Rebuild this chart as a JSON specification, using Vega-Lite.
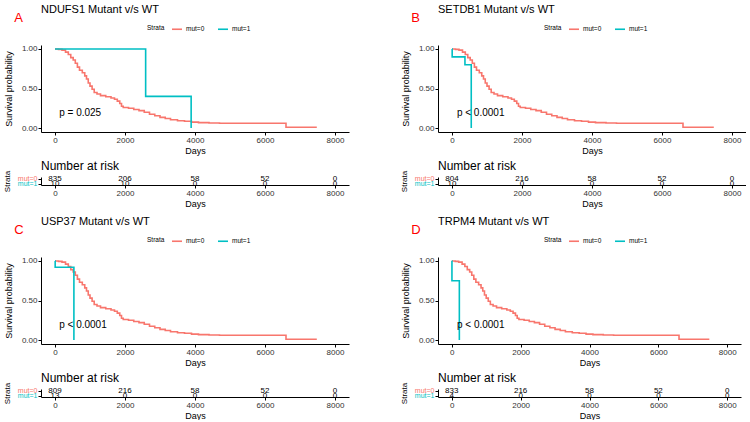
{
  "$schema": "https://vega.github.io/schema/vega-lite/v6.json",
  "background": "white",
  "padding": {"left": 3, "top": 4, "right": 0, "bottom": 0},
  "config": {
    "font": "Liberation Sans",
    "view": {"stroke": null},
    "axis": {"grid": false, "domainColor": "#000", "tickColor": "#000", "labelColor": "#333", "titleColor": "#000", "labelFontSize": 8, "titleFontSize": 9, "titleFontWeight": "normal", "tickSize": 3, "labelPadding": 1, "domainWidth": 1, "tickWidth": 1},
    "title": {"fontWeight": "normal", "color": "#000", "anchor": "start"},
    "legend": {"orient": "none", "legendX": 106, "legendY": -22, "direction": "horizontal", "titleOrient": "left", "symbolType": "stroke", "symbolSize": 100, "symbolStrokeWidth": 1.6, "labelFontSize": 6.5, "titleFontSize": 6.5, "titleFontWeight": "normal", "titlePadding": 6, "columnPadding": 9, "labelOffset": 3, "titleColor": "#000", "labelColor": "#000"}
  },
  "datasets": {
    "wt": [
      {"t": 0, "s": 1}, {"t": 100, "s": 0.995}, {"t": 200, "s": 0.985}, {"t": 300, "s": 0.96}, {"t": 380, "s": 0.93},
      {"t": 450, "s": 0.89}, {"t": 520, "s": 0.86}, {"t": 580, "s": 0.82}, {"t": 640, "s": 0.77}, {"t": 700, "s": 0.73},
      {"t": 780, "s": 0.70}, {"t": 850, "s": 0.66}, {"t": 900, "s": 0.62}, {"t": 950, "s": 0.57}, {"t": 1000, "s": 0.53},
      {"t": 1060, "s": 0.49}, {"t": 1120, "s": 0.45}, {"t": 1200, "s": 0.43}, {"t": 1300, "s": 0.41}, {"t": 1450, "s": 0.395},
      {"t": 1600, "s": 0.38}, {"t": 1700, "s": 0.365}, {"t": 1780, "s": 0.34}, {"t": 1850, "s": 0.31}, {"t": 1900, "s": 0.275},
      {"t": 1950, "s": 0.26}, {"t": 2100, "s": 0.25}, {"t": 2250, "s": 0.235}, {"t": 2400, "s": 0.22}, {"t": 2550, "s": 0.2},
      {"t": 2700, "s": 0.175}, {"t": 2850, "s": 0.155}, {"t": 3000, "s": 0.135}, {"t": 3150, "s": 0.12}, {"t": 3300, "s": 0.105},
      {"t": 3500, "s": 0.093}, {"t": 3700, "s": 0.085}, {"t": 3900, "s": 0.075}, {"t": 4100, "s": 0.068}, {"t": 4400, "s": 0.063},
      {"t": 4700, "s": 0.06}, {"t": 6600, "s": 0.01}, {"t": 7480, "s": 0.01}
    ],
    "mut": [
      {"p": "A", "t": 0, "s": 1}, {"p": "A", "t": 2590, "s": 0.4}, {"p": "A", "t": 3890, "s": 0},
      {"p": "B", "t": 0, "s": 1}, {"p": "B", "t": 5, "s": 0.9}, {"p": "B", "t": 370, "s": 0.8}, {"p": "B", "t": 550, "s": 0},
      {"p": "C", "t": 0, "s": 1}, {"p": "C", "t": 5, "s": 0.92}, {"p": "C", "t": 540, "s": 0},
      {"p": "D", "t": 0, "s": 1}, {"p": "D", "t": 5, "s": 0.75}, {"p": "D", "t": 220, "s": 0}
    ],
    "risk": [
      {"p": "A", "g": "mut=0", "t": 0, "n": "835"}, {"p": "A", "g": "mut=0", "t": 2000, "n": "206"}, {"p": "A", "g": "mut=0", "t": 4000, "n": "58"}, {"p": "A", "g": "mut=0", "t": 6000, "n": "52"}, {"p": "A", "g": "mut=0", "t": 8000, "n": "0"},
      {"p": "A", "g": "mut=1", "t": 0, "n": "10"}, {"p": "A", "g": "mut=1", "t": 2000, "n": "10"}, {"p": "A", "g": "mut=1", "t": 4000, "n": "0"}, {"p": "A", "g": "mut=1", "t": 6000, "n": "0"}, {"p": "A", "g": "mut=1", "t": 8000, "n": "0"},
      {"p": "B", "g": "mut=0", "t": 0, "n": "804"}, {"p": "B", "g": "mut=0", "t": 2000, "n": "216"}, {"p": "B", "g": "mut=0", "t": 4000, "n": "58"}, {"p": "B", "g": "mut=0", "t": 6000, "n": "52"}, {"p": "B", "g": "mut=0", "t": 8000, "n": "0"},
      {"p": "B", "g": "mut=1", "t": 0, "n": "10"}, {"p": "B", "g": "mut=1", "t": 2000, "n": "0"}, {"p": "B", "g": "mut=1", "t": 4000, "n": "0"}, {"p": "B", "g": "mut=1", "t": 6000, "n": "0"}, {"p": "B", "g": "mut=1", "t": 8000, "n": "0"},
      {"p": "C", "g": "mut=0", "t": 0, "n": "809"}, {"p": "C", "g": "mut=0", "t": 2000, "n": "216"}, {"p": "C", "g": "mut=0", "t": 4000, "n": "58"}, {"p": "C", "g": "mut=0", "t": 6000, "n": "52"}, {"p": "C", "g": "mut=0", "t": 8000, "n": "0"},
      {"p": "C", "g": "mut=1", "t": 0, "n": "13"}, {"p": "C", "g": "mut=1", "t": 2000, "n": "0"}, {"p": "C", "g": "mut=1", "t": 4000, "n": "0"}, {"p": "C", "g": "mut=1", "t": 6000, "n": "0"}, {"p": "C", "g": "mut=1", "t": 8000, "n": "0"},
      {"p": "D", "g": "mut=0", "t": 0, "n": "833"}, {"p": "D", "g": "mut=0", "t": 2000, "n": "216"}, {"p": "D", "g": "mut=0", "t": 4000, "n": "58"}, {"p": "D", "g": "mut=0", "t": 6000, "n": "52"}, {"p": "D", "g": "mut=0", "t": 8000, "n": "0"},
      {"p": "D", "g": "mut=1", "t": 0, "n": "4"}, {"p": "D", "g": "mut=1", "t": 2000, "n": "0"}, {"p": "D", "g": "mut=1", "t": 4000, "n": "0"}, {"p": "D", "g": "mut=1", "t": 6000, "n": "0"}, {"p": "D", "g": "mut=1", "t": 8000, "n": "0"}
    ]
  },
  "spacing": 8,
  "resolve": {"scale": {"color": "independent"}, "legend": {"color": "independent"}},
  "vconcat": [
    {
      "spacing": 51,
      "resolve": {"scale": {"color": "independent"}, "legend": {"color": "independent"}},
      "hconcat": [
        {
          "title": {"text": "A", "color": "#FF0000", "fontSize": 13, "dx": 11, "dy": 25},
          "spacing": 4,
          "resolve": {"scale": {"color": "independent"}, "legend": {"color": "independent"}},
          "vconcat": [
            {
              "width": 308, "height": 87,
              "title": {"text": "NDUFS1 Mutant v/s WT", "frame": "group", "fontSize": 11, "offset": 8},
              "layer": [
                {"data": {"name": "wt"}, "mark": {"type": "line", "interpolate": "step-after", "strokeWidth": 1.6},
                 "encoding": {
                   "x": {"field": "t", "type": "quantitative", "scale": {"domain": [-400, 8400], "nice": false, "zero": false}, "axis": {"values": [0, 2000, 4000, 6000, 8000], "format": "d", "title": "Days", "titlePadding": 2}},
                   "y": {"field": "s", "type": "quantitative", "scale": {"domain": [-0.05, 1.05], "nice": false, "zero": false}, "axis": {"values": [0, 0.25, 0.5, 0.75, 1], "format": ".2f", "title": "Survival probability", "titlePadding": 8}},
                   "color": {"datum": "mut=0", "type": "nominal", "scale": {"domain": ["mut=0", "mut=1"], "range": ["#F8766D", "#00BFC4"]}, "legend": {"title": "Strata"}}}},
                {"data": {"name": "mut"}, "transform": [{"filter": "datum.p == 'A'"}], "mark": {"type": "line", "interpolate": "step-after", "strokeWidth": 1.6},
                 "encoding": {"x": {"field": "t", "type": "quantitative"}, "y": {"field": "s", "type": "quantitative"}, "color": {"datum": "mut=1", "type": "nominal"}}},
                {"data": {"values": [{"label": "p = 0.025"}]}, "mark": {"type": "text", "align": "left", "baseline": "middle", "fontSize": 10, "color": "#000"},
                 "encoding": {"x": {"datum": 120, "type": "quantitative"}, "y": {"datum": 0.19, "type": "quantitative"}, "text": {"field": "label", "type": "nominal"}}}
              ]
            },
            {
              "width": 308, "height": 8,
              "title": {"text": "Number at risk", "frame": "group", "fontSize": 12, "offset": -2.5},
              "data": {"name": "risk"}, "transform": [{"filter": "datum.p == 'A'"}],
              "mark": {"type": "text", "fontSize": 8, "baseline": "middle", "color": "#000"},
              "encoding": {
                "x": {"field": "t", "type": "quantitative", "scale": {"domain": [-400, 8400], "nice": false, "zero": false}, "axis": {"values": [0, 2000, 4000, 6000, 8000], "format": "d", "title": "Days", "titlePadding": 2}},
                "y": {"field": "g", "type": "nominal", "scale": {"type": "point", "domain": ["mut=0", "mut=1"], "padding": 0.3}, "axis": {"title": "Strata", "titleFontSize": 8, "labelFontSize": 7, "titlePadding": 6, "labelColor": {"condition": {"test": "datum.value === 'mut=0'", "value": "#F8766D"}, "value": "#00BFC4"}}},
                "text": {"field": "n", "type": "nominal"}
              }
            }
          ]
        },
        {
          "title": {"text": "B", "color": "#FF0000", "fontSize": 13, "dx": 11, "dy": 25},
          "spacing": 4,
          "resolve": {"scale": {"color": "independent"}, "legend": {"color": "independent"}},
          "vconcat": [
            {
              "width": 308, "height": 87,
              "title": {"text": "SETDB1 Mutant v/s WT", "frame": "group", "fontSize": 11, "offset": 8},
              "layer": [
                {"data": {"name": "wt"}, "mark": {"type": "line", "interpolate": "step-after", "strokeWidth": 1.6},
                 "encoding": {
                   "x": {"field": "t", "type": "quantitative", "scale": {"domain": [-400, 8400], "nice": false, "zero": false}, "axis": {"values": [0, 2000, 4000, 6000, 8000], "format": "d", "title": "Days", "titlePadding": 2}},
                   "y": {"field": "s", "type": "quantitative", "scale": {"domain": [-0.05, 1.05], "nice": false, "zero": false}, "axis": {"values": [0, 0.25, 0.5, 0.75, 1], "format": ".2f", "title": "Survival probability", "titlePadding": 8}},
                   "color": {"datum": "mut=0", "type": "nominal", "scale": {"domain": ["mut=0", "mut=1"], "range": ["#F8766D", "#00BFC4"]}, "legend": {"title": "Strata"}}}},
                {"data": {"name": "mut"}, "transform": [{"filter": "datum.p == 'B'"}], "mark": {"type": "line", "interpolate": "step-after", "strokeWidth": 1.6},
                 "encoding": {"x": {"field": "t", "type": "quantitative"}, "y": {"field": "s", "type": "quantitative"}, "color": {"datum": "mut=1", "type": "nominal"}}},
                {"data": {"values": [{"label": "p < 0.0001"}]}, "mark": {"type": "text", "align": "left", "baseline": "middle", "fontSize": 10, "color": "#000"},
                 "encoding": {"x": {"datum": 140, "type": "quantitative"}, "y": {"datum": 0.19, "type": "quantitative"}, "text": {"field": "label", "type": "nominal"}}}
              ]
            },
            {
              "width": 308, "height": 8,
              "title": {"text": "Number at risk", "frame": "group", "fontSize": 12, "offset": -2.5},
              "data": {"name": "risk"}, "transform": [{"filter": "datum.p == 'B'"}],
              "mark": {"type": "text", "fontSize": 8, "baseline": "middle", "color": "#000"},
              "encoding": {
                "x": {"field": "t", "type": "quantitative", "scale": {"domain": [-400, 8400], "nice": false, "zero": false}, "axis": {"values": [0, 2000, 4000, 6000, 8000], "format": "d", "title": "Days", "titlePadding": 2}},
                "y": {"field": "g", "type": "nominal", "scale": {"type": "point", "domain": ["mut=0", "mut=1"], "padding": 0.3}, "axis": {"title": "Strata", "titleFontSize": 8, "labelFontSize": 7, "titlePadding": 6, "labelColor": {"condition": {"test": "datum.value === 'mut=0'", "value": "#F8766D"}, "value": "#00BFC4"}}},
                "text": {"field": "n", "type": "nominal"}
              }
            }
          ]
        }
      ]
    },
    {
      "spacing": 51,
      "resolve": {"scale": {"color": "independent"}, "legend": {"color": "independent"}},
      "hconcat": [
        {
          "title": {"text": "C", "color": "#FF0000", "fontSize": 13, "dx": 11, "dy": 25},
          "spacing": 4,
          "resolve": {"scale": {"color": "independent"}, "legend": {"color": "independent"}},
          "vconcat": [
            {
              "width": 308, "height": 87,
              "title": {"text": "USP37 Mutant v/s WT", "frame": "group", "fontSize": 11, "offset": 8},
              "layer": [
                {"data": {"name": "wt"}, "mark": {"type": "line", "interpolate": "step-after", "strokeWidth": 1.6},
                 "encoding": {
                   "x": {"field": "t", "type": "quantitative", "scale": {"domain": [-400, 8400], "nice": false, "zero": false}, "axis": {"values": [0, 2000, 4000, 6000, 8000], "format": "d", "title": "Days", "titlePadding": 2}},
                   "y": {"field": "s", "type": "quantitative", "scale": {"domain": [-0.05, 1.05], "nice": false, "zero": false}, "axis": {"values": [0, 0.25, 0.5, 0.75, 1], "format": ".2f", "title": "Survival probability", "titlePadding": 8}},
                   "color": {"datum": "mut=0", "type": "nominal", "scale": {"domain": ["mut=0", "mut=1"], "range": ["#F8766D", "#00BFC4"]}, "legend": {"title": "Strata"}}}},
                {"data": {"name": "mut"}, "transform": [{"filter": "datum.p == 'C'"}], "mark": {"type": "line", "interpolate": "step-after", "strokeWidth": 1.6},
                 "encoding": {"x": {"field": "t", "type": "quantitative"}, "y": {"field": "s", "type": "quantitative"}, "color": {"datum": "mut=1", "type": "nominal"}}},
                {"data": {"values": [{"label": "p < 0.0001"}]}, "mark": {"type": "text", "align": "left", "baseline": "middle", "fontSize": 10, "color": "#000"},
                 "encoding": {"x": {"datum": 120, "type": "quantitative"}, "y": {"datum": 0.19, "type": "quantitative"}, "text": {"field": "label", "type": "nominal"}}}
              ]
            },
            {
              "width": 308, "height": 8,
              "title": {"text": "Number at risk", "frame": "group", "fontSize": 12, "offset": -2.5},
              "data": {"name": "risk"}, "transform": [{"filter": "datum.p == 'C'"}],
              "mark": {"type": "text", "fontSize": 8, "baseline": "middle", "color": "#000"},
              "encoding": {
                "x": {"field": "t", "type": "quantitative", "scale": {"domain": [-400, 8400], "nice": false, "zero": false}, "axis": {"values": [0, 2000, 4000, 6000, 8000], "format": "d", "title": "Days", "titlePadding": 2}},
                "y": {"field": "g", "type": "nominal", "scale": {"type": "point", "domain": ["mut=0", "mut=1"], "padding": 0.3}, "axis": {"title": "Strata", "titleFontSize": 8, "labelFontSize": 7, "titlePadding": 6, "labelColor": {"condition": {"test": "datum.value === 'mut=0'", "value": "#F8766D"}, "value": "#00BFC4"}}},
                "text": {"field": "n", "type": "nominal"}
              }
            }
          ]
        },
        {
          "title": {"text": "D", "color": "#FF0000", "fontSize": 13, "dx": 11, "dy": 25},
          "spacing": 4,
          "resolve": {"scale": {"color": "independent"}, "legend": {"color": "independent"}},
          "vconcat": [
            {
              "width": 303, "height": 87,
              "title": {"text": "TRPM4 Mutant v/s WT", "frame": "group", "fontSize": 11, "offset": 8},
              "layer": [
                {"data": {"name": "wt"}, "mark": {"type": "line", "interpolate": "step-after", "strokeWidth": 1.6},
                 "encoding": {
                   "x": {"field": "t", "type": "quantitative", "scale": {"domain": [-400, 8400], "nice": false, "zero": false}, "axis": {"values": [0, 2000, 4000, 6000, 8000], "format": "d", "title": "Days", "titlePadding": 2}},
                   "y": {"field": "s", "type": "quantitative", "scale": {"domain": [-0.05, 1.05], "nice": false, "zero": false}, "axis": {"values": [0, 0.25, 0.5, 0.75, 1], "format": ".2f", "title": "Survival probability", "titlePadding": 8}},
                   "color": {"datum": "mut=0", "type": "nominal", "scale": {"domain": ["mut=0", "mut=1"], "range": ["#F8766D", "#00BFC4"]}, "legend": {"title": "Strata"}}}},
                {"data": {"name": "mut"}, "transform": [{"filter": "datum.p == 'D'"}], "mark": {"type": "line", "interpolate": "step-after", "strokeWidth": 1.6},
                 "encoding": {"x": {"field": "t", "type": "quantitative"}, "y": {"field": "s", "type": "quantitative"}, "color": {"datum": "mut=1", "type": "nominal"}}},
                {"data": {"values": [{"label": "p < 0.0001"}]}, "mark": {"type": "text", "align": "left", "baseline": "middle", "fontSize": 10, "color": "#000"},
                 "encoding": {"x": {"datum": 150, "type": "quantitative"}, "y": {"datum": 0.19, "type": "quantitative"}, "text": {"field": "label", "type": "nominal"}}}
              ]
            },
            {
              "width": 303, "height": 8,
              "title": {"text": "Number at risk", "frame": "group", "fontSize": 12, "offset": -2.5},
              "data": {"name": "risk"}, "transform": [{"filter": "datum.p == 'D'"}],
              "mark": {"type": "text", "fontSize": 8, "baseline": "middle", "color": "#000"},
              "encoding": {
                "x": {"field": "t", "type": "quantitative", "scale": {"domain": [-400, 8400], "nice": false, "zero": false}, "axis": {"values": [0, 2000, 4000, 6000, 8000], "format": "d", "title": "Days", "titlePadding": 2}},
                "y": {"field": "g", "type": "nominal", "scale": {"type": "point", "domain": ["mut=0", "mut=1"], "padding": 0.3}, "axis": {"title": "Strata", "titleFontSize": 8, "labelFontSize": 7, "titlePadding": 6, "labelColor": {"condition": {"test": "datum.value === 'mut=0'", "value": "#F8766D"}, "value": "#00BFC4"}}},
                "text": {"field": "n", "type": "nominal"}
              }
            }
          ]
        }
      ]
    }
  ]
}
